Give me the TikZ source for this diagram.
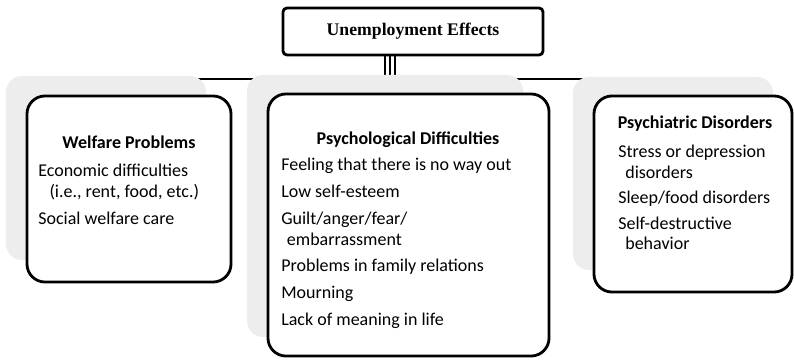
\documentclass[tikz,border=0pt]{standalone}
\usepackage{fontspec}
\setmainfont{Carlito}
\newfontfamily\titlefont{Liberation Serif}
\newcommand\boxfont{\fontsize{12.8}{14.6}\selectfont}

\begin{document}
\begin{tikzpicture}[x=0.025cm,y=-0.025cm,
		backbox/.style={fill=black!7, rounded corners=0.4cm, inner sep=0},
		catbox/.style={draw, line width=2pt, fill=white, rounded corners=0.45cm, inner sep=0},
		heading/.style={inner sep=0, anchor=base, font=\boxfont\bfseries},
		items/.style={inner sep=0, anchor=north west, align=left, font=\boxfont},
		bar/.style={line width=1.4pt}]
		\useasboundingbox (0,0) rectangle (794,361);

		\node[draw, fill=white, line width=2pt, rounded corners=0.1cm, inner sep=0,
			minimum width=6.5cm, minimum height=1.175cm,
			font=\titlefont\bfseries\fontsize{12.6}{14}\selectfont] (effects) at (413,31.5) {Unemployment Effects};

		\coordinate (busw) at (106,79);
		\coordinate (buse) at (673,79);
		\draw[line width=2.1pt] (busw) -- (buse);
		\foreach \i/\x in {1/385,2/390,3/395} {
			\coordinate (bar\i) at (\x,79);
			\draw[bar] (bar\i |- effects.south) -- (bar\i);
		}

		\node[backbox, minimum width=5cm, minimum height=4.6cm] (welfareback) at (106,168) {};
		\node[backbox, minimum width=6.9cm, minimum height=6.55cm] (psychback) at (385,206) {};
		\node[backbox, minimum width=5cm, minimum height=4.825cm] (disordersback) at (673,173.5) {};

		\node[catbox, minimum width=5.1cm, minimum height=4.65cm] (welfare) at (129,189) {};
		\node[catbox, minimum width=7.025cm, minimum height=6.55cm] (psych) at (408.5,225) {};
		\node[catbox, minimum width=4.95cm, minimum height=4.9cm] (disorders) at (693,194) {};

		\node[heading] (welfarehead) at (129,148.5) {Welfare Problems};
		\node[heading] (psychhead) at (408,144) {Psychological Difficulties};
		\node[heading] (disordershead) at (695,128) {Psychiatric Disorders};

		\node[items] (welfareitems) at (38,164) {Economic difficulties\\
			\hspace*{8pt}(i.e., rent, food, etc.)\\[4.5pt]
			Social welfare care};
		\node[items] (psychitems) at (281,158) {Feeling that there is no way out\\[4.5pt]
			Low self-esteem\\[4.5pt]
			Guilt/anger/fear/\\
			\hspace*{4pt}embarrassment\\[4.5pt]
			Problems in family relations\\[4.5pt]
			Mourning\\[4.5pt]
			Lack of meaning in life};
		\node[items] (disordersitems) at (618,145) {Stress or depression\\
			\hspace*{5pt}disorders\\[3.5pt]
			Sleep/food disorders\\[3.5pt]
			Self-destructive\\
			\hspace*{5pt}behavior};
	\end{tikzpicture}
\end{document}
